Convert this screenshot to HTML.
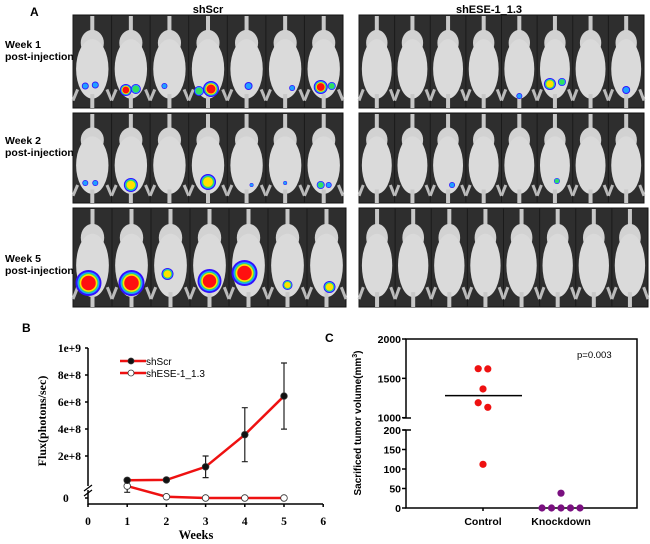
<!DOCTYPE html>
<html><head><meta charset="utf-8"><style>
body{margin:0;background:#fff;width:650px;height:544px;overflow:hidden;font-family:"Liberation Sans",sans-serif}
svg{position:absolute;left:0;top:0}
</style></head><body>
<svg id="fig" width="650" height="544" xmlns="http://www.w3.org/2000/svg">
<g id="panelA"></g>
<g id="chartB"></g>
<g id="chartC"></g>
</svg>
<script>
// ---- Chart B data ----
const weeks = [1, 2, 3, 4, 5];
const shScrFlux = [2.0e7, 2.3e7, 1.2e8, 3.58e8, 6.44e8];
const shScrErr = [0, 0, 0.8e8, 2.0e8, 2.45e8];
const shESEFlux = [1.33e7, 1.4e6, 0, 0, 0];
const shESEErr = [0.7e7, 0, 0, 0, 0];
const bYTicks = ["2e+8", "4e+8", "6e+8", "8e+8", "1e+9"];
const bYTickVals = [2e8, 4e8, 6e8, 8e8, 1e9];
const bXTicks = [0, 1, 2, 3, 4, 5, 6];
// ---- Chart C data ----
const cGroups = ["Control", "Knockdown"];
const controlVals = [1623, 1620, 1365, 1190, 1132, 112];
const knockdownVals = [38, 0, 0, 0, 0, 0];
const controlMean = 1280;
const cUpperTicks = [1000, 1500, 2000];
const cLowerTicks = [0, 50, 100, 150, 200];

const NS = "http://www.w3.org/2000/svg";
function mk(tag, attrs, parent, text) {
  const e = document.createElementNS(NS, tag);
  for (const k in attrs) e.setAttribute(k, attrs[k]);
  if (text !== undefined) e.textContent = text;
  parent.appendChild(e);
  return e;
}

// ---------------- Panel A ----------------
const A = document.getElementById('panelA');
let t;
t = mk('text', {x: 30, y: 16, 'font-size': 12, 'font-weight': 'bold'}, A, 'A');
 
t = mk('text', {x: 208, y: 13, 'font-size': 11, 'font-weight': 'bold', 'text-anchor': 'middle'}, A, 'shScr');
 
t = mk('text', {x: 489, y: 13, 'font-size': 11, 'font-weight': 'bold', 'text-anchor': 'middle'}, A, 'shESE-1_1.3');
 

const rows = [
  {label: 'Week 1', top: 15, bot: 108, ly: 48},
  {label: 'Week 2', top: 113, bot: 203, ly: 144},
  {label: 'Week 5', top: 208, bot: 307, ly: 262}
];
// blobs: [panel, row, mouseIdx, dx, dyFromBottom, radius, maxLevel]
const blobs = [
  [0,0,0,-7,22,3.5,1],[0,0,0,3,23,3.5,1],[0,0,1,-5,18,6,4],[0,0,1,5,19,5,2],
  [0,0,2,-5,22,3,1],[0,0,3,-9,17,5,2],[0,0,3,3,19,8,4],[0,0,4,2,22,4,1],[0,0,5,7,20,3,1],
  [0,0,6,-3,21,7,4],[0,0,6,8,22,4,2],
  [0,1,0,-7,20,3,1],[0,1,0,3,20,3,1],[0,1,1,0,18,7,3],[0,1,3,0,21,8,3],[0,1,4,5,18,2,1],
  [0,1,5,0,20,2,1],[0,1,6,-3,18,4,2],[0,1,6,5,18,3,1],
  [0,2,0,-4,24,13,4],[0,2,1,0,24,13,4],[0,2,2,-3,33,6,3],[0,2,3,0,26,12,4],
  [0,2,4,-4,34,13,4],[0,2,5,0,22,5,3],[0,2,6,3,20,6,3],
  [1,0,4,0,12,3,1],[1,0,5,-5,24,6,3],[1,0,5,7,26,4,2],[1,0,7,0,18,4,1],
  [1,1,2,4,18,3,1],[1,1,5,2,22,3,2]
];
const blobCols = ['#3010ff','#20a0ff','#30e060','#ffe000','#ff1010'];
const ringFrac = [1, 0.85, 0.75, 0.68, 0.62];
const panels = [{x0: 73, x1: 343, n: 7}, {x0: 359, x1: 644, n: 8}];
rows.forEach((r, ri) => {
  const l1 = mk('text', {x: 5, y: r.ly, 'font-size': 10.5, 'font-weight': 'bold'}, A, r.label);
   
  const l2 = mk('text', {x: 5, y: r.ly + 12, 'font-size': 10.5, 'font-weight': 'bold'}, A, 'post-injection');
   
  panels.forEach((p, pi) => {
    const x1 = (ri === 2 && pi === 0) ? 346 : (ri === 2 ? 648 : p.x1);
    const g = mk('g', {}, A);
    
    
    mk('rect', {x: p.x0, y: r.top, width: x1 - p.x0, height: r.bot - r.top, fill: '#2e2e2e', stroke: '#111', 'stroke-width': 1}, g);
    const w = (x1 - p.x0) / p.n, h = r.bot - r.top;
    for (let i = 0; i < p.n; i++) {
      const cx = p.x0 + w * (i + 0.5);
      mk('line', {x1: p.x0 + w * i, x2: p.x0 + w * i, y1: r.top, y2: r.bot, stroke: '#1a1a1a', 'stroke-width': 1}, g);
      mk('rect', {x: cx - 2, y: r.top + 1, width: 4, height: h * 0.25, fill: '#c8c8c8'}, g);
      mk('ellipse', {cx: cx, cy: r.top + h * 0.3, rx: w * 0.3, ry: h * 0.14, fill: '#d2d2d2'}, g);
      mk('ellipse', {cx: cx, cy: r.top + h * 0.58, rx: w * 0.42, ry: h * 0.32, fill: '#dadada'}, g);
      mk('path', {d: `M${cx - w * 0.38} ${r.bot - h * 0.2} l-${w * 0.12} ${h * 0.12} M${cx + w * 0.38} ${r.bot - h * 0.2} l${w * 0.12} ${h * 0.12}`, stroke: '#bbb', 'stroke-width': 3}, g);
      mk('rect', {x: cx - 2, y: r.top + h * 0.85, width: 4, height: h * 0.15, fill: '#c8c8c8'}, g);
    }
    blobs.filter(b => b[0] === pi && b[1] === ri).forEach(b => {
      const cx = p.x0 + w * (b[2] + 0.5) + b[3], cy = r.bot - b[4];
      for (let L = 0; L <= b[6]; L++) {
        mk('circle', {cx: cx, cy: cy, r: b[5] * ringFrac[L] * (L === b[6] && L > 0 ? 0.9 : 1), fill: blobCols[L]}, g);
      }
    });
  });
});

// ---------------- Chart B ----------------
const B = document.getElementById('chartB');
const bx = w => 88 + w * 39.2;
const by = v => v < 2e7 ? 498 - v / 2e7 * 18 : 483 - v * 1.35e-7;
const serif = '"Liberation Serif",serif';
t = mk('text', {x: 22, y: 332, 'font-size': 12, 'font-weight': 'bold'}, B, 'B');
 
const bAxes = mk('g', {stroke: '#000', 'stroke-width': 1.5, fill: 'none'}, B);
 
mk('path', {d: 'M88 348 V486 M88 490 V504 H323'}, bAxes);
mk('path', {d: 'M84 491 l8 -6 M84 496 l8 -6', 'stroke-width': 1.2}, bAxes);
bYTickVals.forEach((v, i) => {
  mk('line', {x1: 85, x2: 88, y1: by(v), y2: by(v)}, bAxes);
  const tt = mk('text', {x: 81, y: by(v) + 4, 'font-size': 11.5, 'font-weight': 'bold', 'text-anchor': 'end', 'font-family': serif}, B, bYTicks[i]);
   
});
mk('line', {x1: 85, x2: 88, y1: 498, y2: 498}, bAxes);
t = mk('text', {x: 63, y: 502, 'font-size': 11.5, 'font-weight': 'bold', 'font-family': serif}, B, '0');
 
bXTicks.forEach(w => {
  mk('line', {x1: bx(w), x2: bx(w), y1: 504, y2: 507}, bAxes);
  const tt = mk('text', {x: bx(w), y: 525, 'font-size': 11.5, 'font-weight': 'bold', 'text-anchor': 'middle', 'font-family': serif}, B, String(w));
   
});
t = mk('text', {x: 196, y: 539, 'font-size': 12.5, 'font-weight': 'bold', 'text-anchor': 'middle', 'font-family': serif}, B, 'Weeks');
 
t = mk('text', {x: 0, y: 0, 'font-size': 12, 'font-weight': 'bold', 'text-anchor': 'middle', 'font-family': serif, transform: 'translate(46 421) rotate(-90)'}, B, 'Flux(photons/sec)');
 
function series(vals, errs, fillC, name) {
  const g = mk('g', {}, B);
   
  mk('polyline', {points: weeks.map((w, i) => bx(w) + ',' + by(vals[i])).join(' '), fill: 'none', stroke: '#ee1111', 'stroke-width': 2.5}, g);
  weeks.forEach((w, i) => {
    if (errs[i] > 0) {
      const y1 = by(vals[i] + errs[i]), y2 = by(Math.max(vals[i] - errs[i], 0));
      mk('path', {d: `M${bx(w)} ${y1} V${y2} M${bx(w) - 3} ${y1} h6 M${bx(w) - 3} ${y2} h6`, stroke: '#222', 'stroke-width': 1.2}, g);
    }
    const c = mk('circle', {cx: bx(w), cy: by(vals[i]), r: 3.3, fill: fillC, stroke: '#333', 'stroke-width': 0.8}, g);
     
  });
}
series(shESEFlux, shESEErr, '#fff', 'shese-series');
series(shScrFlux, shScrErr, '#111', 'shscr-series');
const leg = mk('g', {}, B);
 
[['shScr', '#111', 361], ['shESE-1_1.3', '#fff', 373]].forEach(([lab, fc, y]) => {
  mk('line', {x1: 120, x2: 146, y1: y, y2: y, stroke: '#ee1111', 'stroke-width': 2.5}, leg);
  mk('circle', {cx: 131, cy: y, r: 3, fill: fc, stroke: '#333', 'stroke-width': 0.8}, leg);
  const tt = mk('text', {x: 146, y: y + 4, 'font-size': 10}, leg, lab);
   
});

// ---------------- Chart C ----------------
const C = document.getElementById('chartC');
const cyU = v => 339 + (2000 - v) / 1000 * 78.7;
const cyL = v => 508 - v / 200 * 78;
const cy = v => v >= 1000 ? cyU(v) : cyL(v);
const cx = i => [483, 561][i];
t = mk('text', {x: 325, y: 342, 'font-size': 12, 'font-weight': 'bold'}, C, 'C');
 
const cAx = mk('g', {stroke: '#000', 'stroke-width': 1.5, fill: 'none'}, C);
 
mk('path', {d: 'M406 418 V339 H637 V508 H406 V430'}, cAx);
mk('path', {d: 'M403 418 h8 M403 430 h8'}, cAx);
cUpperTicks.forEach(v => {
  mk('line', {x1: 402, x2: 406, y1: cyU(v), y2: cyU(v)}, cAx);
  const tt = mk('text', {x: 401, y: cyU(v) + 4, 'font-size': 10.5, 'font-weight': 'bold', 'text-anchor': 'end'}, C, String(v));
   
});
cLowerTicks.forEach(v => {
  mk('line', {x1: 402, x2: 406, y1: cyL(v), y2: cyL(v)}, cAx);
  const tt = mk('text', {x: 401, y: cyL(v) + 4, 'font-size': 10.5, 'font-weight': 'bold', 'text-anchor': 'end'}, C, String(v));
   
});
cGroups.forEach((gName, i) => {
  mk('line', {x1: cx(i), x2: cx(i), y1: 508, y2: 511}, cAx);
  const tt = mk('text', {x: cx(i), y: 525, 'font-size': 10.5, 'font-weight': 'bold', 'text-anchor': 'middle'}, C, gName);
   
});
t = mk('text', {x: 0, y: 0, 'font-size': 10, 'font-weight': 'bold', 'text-anchor': 'middle', transform: 'translate(361 423) rotate(-90)'}, C);
 
t.innerHTML = 'Sacrificed tumor volume(mm<tspan dy="-4" font-size="7">3</tspan><tspan dy="4">)</tspan>';
t = mk('text', {x: 577, y: 358, 'font-size': 9.5}, C, 'p=0.003');
 
const ml = mk('line', {x1: 445, x2: 522, y1: cy(controlMean), y2: cy(controlMean), stroke: '#000', 'stroke-width': 1.5}, C);
 
const ctrlJit = [-1, 1, 0, -1, 1, 0];
controlVals.forEach((v, i) => {
  const c = mk('circle', {cx: cx(0) + ctrlJit[i] * 4.8, cy: cy(v), r: 3.6, fill: '#ee1111'}, C);
   
});
const kdJit = [0, -2, -1, 0, 1, 2];
knockdownVals.forEach((v, i) => {
  const c = mk('circle', {cx: cx(1) + kdJit[i] * 9.5, cy: cy(v), r: 3.6, fill: '#7a1080'}, C);
   
});
</script>
</body></html>
